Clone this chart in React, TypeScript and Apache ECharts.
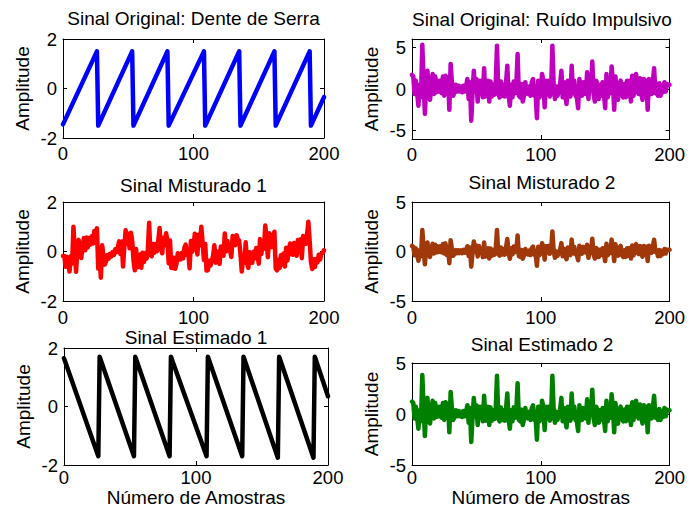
import React, { useEffect, useRef } from "react";
import * as echarts from "echarts";

// ---------- data ----------
const sawtoothX = [0, 26, 27, 53, 54, 80, 81, 108, 109, 135, 136, 162, 163, 189, 190, 200];
const sawtoothY = [-1.45, 1.5, -1.5, 1.5, -1.5, 1.5, -1.5, 1.5, -1.5, 1.5, -1.5, 1.5, -1.5, 1.5, -1.5, -0.35];

const estimated1X = [0, 26, 27, 53, 54, 80, 81, 108, 109, 135, 136, 162, 163, 189, 190, 200];
const estimated1Y = [1.65, -1.7, 1.7, -1.7, 1.7, -1.7, 1.7, -1.7, 1.7, -1.7, 1.7, -1.75, 1.7, -1.75, 1.7, 0.35];

const impulsiveNoise = [
  1.7, 1.5, -0.6, 1.0, -0.5, -2.0, 0.5, -1.0, 5.3, 1.0,
  -3.0, 0.8, 2.2, -0.5, -1.3, 0.3, 1.8, -0.6, 1.5, -0.4,
  1.0, -0.3, 1.0, -0.5, 1.5, -0.8, 1.6, -0.5, 1.4, -2.5,
  3.0, 0.8, -0.8, -0.4, 0.5, -0.3, 0.4, -0.3, 0.3, -0.4,
  0.4, -0.3, 0.3, 1.2, -1.2, 0.8, -3.8, -0.5, 2.2, -0.3,
  1.2, -1.5, 1.0, -0.5, 1.0, -1.0, 2.5, -0.9, -0.5, 1.0,
  -1.5, 0.9, -0.9, 0.5, -0.7, 0.6, 5.2, -0.6, -1.0, 0.9,
  -0.8, 0.5, -0.9, 0.7, 2.8, -0.7, -2.0, 0.5, -1.0, 0.9,
  -0.5, 0.4, 4.2, -0.8, -1.0, 0.6, -1.5, -0.7, 0.8, -0.3,
  -0.6, 0.3, -0.8, 0.8, 1.2, -0.8, -0.5, -3.5, 1.0, -1.0,
  -0.5, 1.8, 0.9, -2.2, 1.0, -0.5, 1.0, -0.9, -0.3, 5.2,
  0.5, -1.2, 0.3, -0.8, -0.2, 0.6, 2.2, -1.0, 0.8, -0.8,
  -1.8, 1.0, -0.5, -0.9, 2.8, -0.5, 1.0, -0.8, -1.0, -2.3,
  1.2, -0.3, -0.8, 0.8, -0.2, -0.6, 2.0, -1.2, 1.0, 0.0,
  3.3, -0.6, -1.5, 1.0, 0.6, -1.2, 0.5, -0.8, 0.8, -0.6,
  -2.3, 1.8, -1.0, 0.6, -0.5, 2.7, 0.8, -2.5, 1.5, -0.6,
  -1.3, 0.5, 1.0, -0.5, -1.0, 0.6, -1.0, 1.0, -0.8, 1.0,
  -1.5, 1.6, -0.8, 0.8, 1.8, -0.3, -0.6, 1.3, -0.5, -1.3,
  1.2, -0.9, 1.0, -2.5, 1.2, -0.3, -0.6, 0.8, 2.5, -0.5,
  0.6, -0.8, 0.7, -0.8, 0.4, -0.4, 0.8, -0.3, 0.6, 0.5,
  0.5,
];

const mixed1 = [
  -0.18, -0.18, -0.62, -0.21, -0.51, -0.81, -0.19, -0.49, 1.0, 0.05,
  -0.82, 0.09, 0.47, -0.12, -0.26, 0.16, 0.54, 0.05, 0.57, 0.16,
  0.54, 0.28, 0.62, 0.32, 0.83, 0.35, 0.94, -0.69, -0.21, -1.06,
  0.25, -0.21, -0.53, -0.4, -0.14, -0.29, -0.09, -0.2, -0.02, -0.14,
  0.09, -0.03, 0.16, 0.41, -0.1, 0.4, -0.61, 0.2, 0.86, 0.32,
  0.72, 0.13, 0.76, 0.45, -0.33, -0.76, 0.1, -0.64, -0.51, -0.12,
  -0.66, -0.05, -0.43, -0.06, -0.29, 0.05, 1.16, -0.13, -0.19, 0.3,
  -0.05, 0.3, 0.01, 0.42, 0.95, 0.19, -0.07, 0.56, 0.25, 0.74,
  0.45, -0.48, 0.44, -0.66, -0.67, -0.25, -0.7, -0.47, -0.07, -0.29,
  -0.32, -0.06, -0.28, 0.15, 0.28, -0.14, -0.03, -0.68, 0.42, -0.01,
  0.14, 0.72, 0.56, -0.12, 0.68, 0.25, 1.0, 0.34, -0.35, 0.3,
  -0.77, -0.76, -0.37, -0.57, -0.4, -0.17, 0.25, -0.45, 0.0, -0.31,
  -0.5, 0.2, -0.12, -0.17, 0.73, 0.01, 0.42, 0.04, 0.03, -0.22,
  0.63, 0.32, 0.26, 0.66, 0.48, 0.44, -0.11, -0.81, -0.25, -0.44,
  0.37, -0.48, -0.66, -0.03, -0.08, -0.46, -0.01, -0.27, 0.14, -0.13,
  -0.49, 0.5, -0.1, 0.31, 0.11, 1.05, 0.49, -0.23, 0.74, 0.3,
  0.18, 0.65, 0.8, -0.69, -0.76, -0.34, -0.67, -0.15, -0.53, -0.08,
  -0.61, 0.15, -0.36, 0.05, 0.32, -0.11, -0.13, 0.34, -0.03, -0.17,
  0.46, 0.01, 0.49, -0.27, 0.63, 0.32, 0.31, 0.66, 1.2, 0.45,
  -0.43, -0.71, -0.31, -0.63, -0.3, -0.44, -0.13, -0.33, -0.08, -0.06,
  0.05,
];

const mixed2 = [
  0.56, 0.49, -0.38, 0.3, -0.31, -0.93, 0.13, -0.49, 2.17, 0.37,
  -1.29, 0.32, 0.91, -0.21, -0.54, 0.15, 0.79, -0.2, 0.69, -0.09,
  0.5, -0.04, 0.52, -0.09, 0.76, -0.2, 0.82, -0.36, 0.45, -1.18,
  1.14, 0.23, -0.43, -0.25, 0.14, -0.18, 0.12, -0.16, 0.11, -0.18,
  0.17, -0.12, 0.15, 0.53, -0.45, 0.4, -1.53, -0.13, 1.01, -0.03,
  0.62, -0.5, 0.56, -0.06, 0.27, -0.56, 0.92, -0.5, -0.31, 0.33,
  -0.71, 0.31, -0.43, 0.16, -0.33, 0.23, 2.17, -0.25, -0.41, 0.4,
  -0.31, 0.26, -0.32, 0.37, 1.26, -0.21, -0.74, 0.33, -0.29, 0.51,
  -0.06, 0.02, 1.62, -0.46, -0.54, 0.15, -0.72, -0.37, 0.26, -0.19,
  -0.3, 0.1, -0.36, 0.33, 0.5, -0.33, -0.19, -1.44, 0.47, -0.36,
  -0.14, 0.84, 0.47, -0.82, 0.54, -0.08, 0.56, -0.23, 0.02, 2.03,
  0.07, -0.63, 0.01, -0.44, -0.17, 0.17, 0.85, -0.48, 0.29, -0.36,
  -0.78, 0.41, -0.21, -0.36, 1.2, -0.18, 0.47, -0.28, -0.35, -0.89,
  0.59, -0.03, -0.21, 0.47, 0.06, -0.1, 0.69, -0.64, 0.29, -0.12,
  1.29, -0.34, -0.71, 0.35, 0.19, -0.56, 0.18, -0.36, 0.33, -0.26,
  -0.96, 0.78, -0.39, 0.3, -0.15, 1.2, 0.42, -0.96, 0.73, -0.13,
  -0.42, 0.35, 0.57, -0.36, -0.56, 0.12, -0.54, 0.32, -0.43, 0.34,
  -0.7, 0.61, -0.39, 0.31, 0.74, -0.14, -0.25, 0.56, -0.19, -0.52,
  0.55, -0.31, 0.49, -0.97, 0.59, -0.03, -0.14, 0.47, 1.19, -0.06,
  0.11, -0.48, 0.16, -0.46, 0.07, -0.26, 0.26, -0.2, 0.19, 0.16,
  0.18,
];

const estimated2 = [
  1.22, 1.08, -0.43, 0.72, -0.36, -1.44, 0.36, -0.72, 3.82, 0.72,
  -2.16, 0.58, 1.58, -0.36, -0.94, 0.22, 1.3, -0.43, 1.08, -0.29,
  0.72, -0.22, 0.72, -0.36, 1.08, -0.58, 1.15, -0.36, 1.01, -1.8,
  2.16, 0.58, -0.58, -0.29, 0.36, -0.22, 0.29, -0.22, 0.22, -0.29,
  0.29, -0.22, 0.22, 0.86, -0.86, 0.58, -2.74, -0.36, 1.58, -0.22,
  0.86, -1.08, 0.72, -0.36, 0.72, -0.72, 1.8, -0.65, -0.36, 0.72,
  -1.08, 0.65, -0.65, 0.36, -0.5, 0.43, 3.74, -0.43, -0.72, 0.65,
  -0.58, 0.36, -0.65, 0.5, 2.02, -0.5, -1.44, 0.36, -0.72, 0.65,
  -0.36, 0.29, 3.02, -0.58, -0.72, 0.43, -1.08, -0.5, 0.58, -0.22,
  -0.43, 0.22, -0.58, 0.58, 0.86, -0.58, -0.36, -2.52, 0.72, -0.72,
  -0.36, 1.3, 0.65, -1.58, 0.72, -0.36, 0.72, -0.65, -0.22, 3.74,
  0.36, -0.86, 0.22, -0.58, -0.14, 0.43, 1.58, -0.72, 0.58, -0.58,
  -1.3, 0.72, -0.36, -0.65, 2.02, -0.36, 0.72, -0.58, -0.72, -1.66,
  0.86, -0.22, -0.58, 0.58, -0.14, -0.43, 1.44, -0.86, 0.72, 0.0,
  2.38, -0.43, -1.08, 0.72, 0.43, -0.86, 0.36, -0.58, 0.58, -0.43,
  -1.66, 1.3, -0.72, 0.43, -0.36, 1.94, 0.58, -1.8, 1.08, -0.43,
  -0.94, 0.36, 0.72, -0.36, -0.72, 0.43, -0.72, 0.72, -0.58, 0.72,
  -1.08, 1.15, -0.58, 0.58, 1.3, -0.22, -0.43, 0.94, -0.36, -0.94,
  0.86, -0.65, 0.72, -1.8, 0.86, -0.22, -0.43, 0.58, 1.8, -0.36,
  0.43, -0.58, 0.5, -0.58, 0.29, -0.29, 0.58, -0.22, 0.43, 0.36,
  0.36,
];

const titles = [
  "Sinal Original: Dente de Serra",
  "Sinal Original: Ruído Impulsivo",
  "Sinal Misturado 1",
  "Sinal Misturado 2",
  "Sinal Estimado 1",
  "Sinal Estimado 2",
];
const xTicks = [0, 100, 200];
const yTicksSmall = [-2, 0, 2];
const yTicksWide = [-5, 0, 5];
const yLabel = "Amplitude";
const xLabel = "Número de Amostras";

// ---------- layout / style ----------
const FONT = "'Liberation Sans', Arial, Helvetica, sans-serif";
const panels = [
  { left: 63, top: 39, width: 261, height: 99, yMin: -2, yMax: 2, yTicks: yTicksSmall, color: "#0000ff", titleY: 18.5, xMargin: 6 },
  { left: 412, top: 39, width: 260, height: 100, yMin: -6, yMax: 6, yTicks: yTicksWide, color: "#bf00bf", titleY: 19, xMargin: 6 },
  { left: 63, top: 202, width: 261, height: 99, yMin: -2, yMax: 2, yTicks: yTicksSmall, color: "#ff0000", titleY: 185.5, xMargin: 7 },
  { left: 412, top: 202, width: 260, height: 99, yMin: -5, yMax: 5, yTicks: yTicksWide, color: "#a0380a", titleY: 182, xMargin: 7 },
  { left: 64, top: 348, width: 264, height: 117, yMin: -2, yMax: 2, yTicks: yTicksSmall, color: "#000000", titleY: 337, xMargin: 3 },
  { left: 412, top: 363, width: 260, height: 102, yMin: -5, yMax: 5, yTicks: yTicksWide, color: "#008000", titleY: 344, xMargin: 3 },
];

const seriesData: number[][][] = [
  sawtoothX.map((x, i) => [x, sawtoothY[i]]),
  impulsiveNoise.map((v, i) => [i, v]),
  mixed1.map((v, i) => [i, v]),
  mixed2.map((v, i) => [i, v]),
  estimated1X.map((x, i) => [x, estimated1Y[i]]),
  estimated2.map((v, i) => [i, v]),
];

export default function App() {
  const ref = useRef<HTMLDivElement>(null);

  useEffect(() => {
    document.body.style.margin = "0";
    if (!ref.current) return;
    const chart = echarts.init(ref.current, null, { renderer: "svg" });

    const axisLine = { show: true, onZero: false, lineStyle: { color: "#000", width: 1 } };
    const tickStyle = { color: "#000", width: 1 };
    const labelStyle = { color: "#000", fontSize: 18.5, fontFamily: FONT };

    const xAxis: any[] = [];
    const yAxis: any[] = [];
    panels.forEach((p, g) => {
      const bottomRow = g >= 4;
      xAxis.push({
        type: "value",
        gridIndex: g,
        position: "bottom",
        min: 0,
        max: 200,
        axisLine,
        splitLine: { show: false },
        axisTick: { show: true, inside: true, length: 4, lineStyle: tickStyle, customValues: xTicks },
        axisLabel: { ...labelStyle, margin: p.xMargin, customValues: xTicks },
        name: bottomRow ? xLabel : "",
        nameLocation: "middle",
        nameGap: g === 4 ? 21.5 : 22.5,
        nameTextStyle: { color: "#000", fontSize: 19, fontFamily: FONT },
      });
      xAxis.push({
        type: "value",
        gridIndex: g,
        position: "top",
        min: 0,
        max: 200,
        axisLine,
        splitLine: { show: false },
        axisTick: { show: true, inside: true, length: 4, lineStyle: tickStyle, customValues: xTicks },
        axisLabel: { show: false },
      });
      yAxis.push({
        type: "value",
        gridIndex: g,
        position: "left",
        min: p.yMin,
        max: p.yMax,
        axisLine,
        splitLine: { show: false },
        axisTick: { show: true, inside: true, length: 4, lineStyle: tickStyle, customValues: p.yTicks },
        axisLabel: { ...labelStyle, margin: 6, customValues: p.yTicks },
        name: yLabel,
        nameLocation: "middle",
        nameGap: 31,
        nameTextStyle: { color: "#000", fontSize: 19, fontFamily: FONT },
      });
      yAxis.push({
        type: "value",
        gridIndex: g,
        position: "right",
        min: p.yMin,
        max: p.yMax,
        axisLine,
        splitLine: { show: false },
        axisTick: { show: true, inside: true, length: 4, lineStyle: tickStyle, customValues: p.yTicks },
        axisLabel: { show: false },
      });
    });

    chart.setOption({
      animation: false,
      backgroundColor: "#ffffff",
      textStyle: { fontFamily: FONT },
      title: panels.map((p, g) => ({
        text: titles[g],
        left: p.left + p.width / 2,
        top: p.titleY,
        textAlign: "center",
        textVerticalAlign: "middle",
        padding: 0,
        textStyle: { color: "#000", fontSize: 19, fontWeight: "normal", fontFamily: FONT },
      })),
      grid: panels.map((p) => ({ left: p.left, top: p.top, width: p.width, height: p.height, containLabel: false })),
      xAxis,
      yAxis,
      series: panels.map((p, g) => ({
        type: "line",
        xAxisIndex: 2 * g,
        yAxisIndex: 2 * g,
        data: seriesData[g],
        showSymbol: false,
        symbol: "none",
        clip: true,
        lineStyle: { color: p.color, width: 4.5, cap: "round", join: "round" },
        silent: true,
      })),
    });

    return () => chart.dispose();
  }, []);

  return <div ref={ref} style={{ width: 688, height: 518 }} />;
}
